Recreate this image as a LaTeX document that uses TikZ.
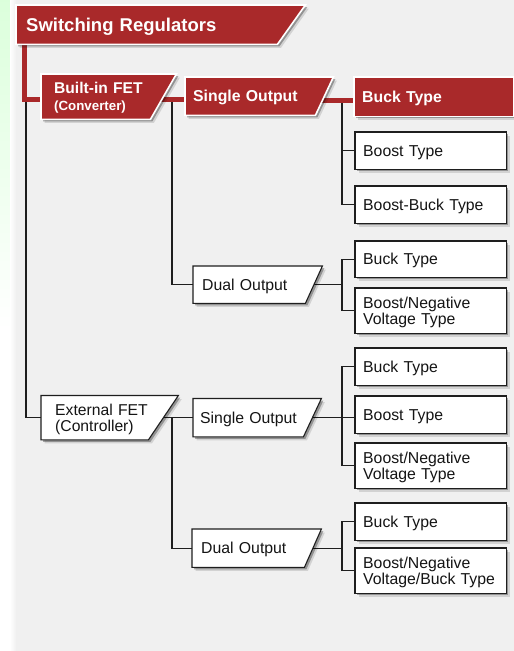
\documentclass[tikz,border=0pt]{standalone}
\usepackage{fontspec}
\setmainfont{Liberation Sans}
\pgfdeclarelayer{bg}
\pgfdeclarelayer{lines}
\pgfdeclarelayer{shapes}
\pgfsetlayers{bg,lines,shapes,main}
\definecolor{myred}{HTML}{A9292A}
\definecolor{panel}{HTML}{F0F0F0}
\definecolor{lnc}{HTML}{1E1E1E}
\newcommand\myslpath[3]{\path[#3] (#1.north west) -- (#1.north east) -- ([xshift=-#2pt]#1.south east) -- (#1.south west) -- cycle;}
\newcommand\myboxshape[3]{%
  \begin{scope}[transform canvas={shift={(3.5,3.5)}}]\myslpath{#1}{#2}{fill=black,opacity=.12}\end{scope}
  \begin{scope}[transform canvas={shift={(2,2)}}]\myslpath{#1}{#2}{fill=black,opacity=.3}\end{scope}
  \myslpath{#1}{#2}{#3}}
\begin{document}
\begin{tikzpicture}[x=1pt,y=-1pt,
  box/.style={anchor=north west, inner ysep=0pt, text depth=0pt, align=left,
    font=\fontsize{15.8}{16.5}\selectfont, text=black!92},
  wbox/.style={box, inner xsep=8pt, text width=135pt, minimum height=#1},
  twoline/.style={text depth=#1},
  redtxt/.style={text=white, font=\bfseries\fontsize{15.8}{17}\selectfont},
  whitefill/.style={fill=white, draw=lnc, line width=1.1pt},
  redfill/.style={fill=myred, draw=white, line width=1.6pt},
  redl/.style={draw=myred, line width=5pt},
  blk/.style={draw=lnc, line width=1.1pt}]
\useasboundingbox (0,0) rectangle (514,651);
% nodes
\node[box, inner xsep=10pt, text width=269pt, minimum height=39pt, text=white,
  font=\bfseries\fontsize{18.5}{20}\selectfont] (title) at (16,5) {Switching Regulators};
\node[box, twoline=17pt, inner xsep=13pt, text width=109pt, minimum height=45pt, text=white,
  font=\bfseries\fontsize{15.6}{17}\selectfont] (bi) at (41,74) {Built-in FET\\{\fontsize{13.3}{17}\selectfont (Converter)}};
\node[box, redtxt, inner xsep=8pt, text width=132pt, minimum height=38pt] (so1) at (185,77) {Single Output};
\node[box, redtxt, inner xsep=8pt, text width=143pt, minimum height=39pt] (bk) at (354,77) {Buck Type};
\node[wbox=37pt] (b1) at (355,132) {Boost Type};
\node[wbox=37pt] (b2) at (355,186) {Boost-Buck Type};
\node[box, inner xsep=9pt, text width=111pt, minimum height=37pt] (du1) at (193,266) {Dual Output};
\node[wbox=36pt] (b3) at (355,241) {Buck Type};
\node[wbox=45pt, twoline=16.5pt] (b4) at (355,288) {Boost/Negative\\Voltage Type};
\node[box, twoline=16pt, inner xsep=14pt, text width=109pt, minimum height=44pt,
  font=\fontsize{15.7}{16}\selectfont] (ext) at (41,395.5) {External FET\\(Controller)};
\node[box, inner xsep=7pt, text width=114pt, minimum height=38pt] (es) at (193,398.5) {Single Output};
\node[wbox=37pt] (b5) at (355,348) {Buck Type};
\node[wbox=37pt] (b6) at (355,396) {Boost Type};
\node[wbox=45pt, twoline=16.5pt] (b7) at (355,443) {Boost/Negative\\Voltage Type};
\node[box, inner xsep=9pt, text width=111pt, minimum height=38pt] (ed) at (192,529) {Dual Output};
\node[wbox=37pt] (b8) at (355,503) {Buck Type};
\node[wbox=45pt, twoline=16.5pt] (b9) at (355,548) {Boost/Negative\\Voltage/Buck Type};
\coordinate (j0) at (26,102);
\coordinate (j1) at (172,102);
\coordinate (t1) at (342,101);
% background
\begin{pgfonlayer}{bg}
  \fill[panel] (0,0) rectangle (514,651);
  \shade[top color=green!14!white, bottom color=white] (0,0) rectangle (10,330);
  \fill[white] (0,330) rectangle (10,651);
  \shade[left color=white, right color=panel] (10,0) rectangle (16,651);
\end{pgfonlayer}
% connectors
\begin{pgfonlayer}{lines}
  \draw[blk] (j0) |- (ext.west);
  \draw[blk] (j1) |- (du1.west);
  \draw[blk] (ext.center) -- (es.west);
  \draw[blk] (ext.center -| j1) |- (ed.west);
  \draw[blk] (t1) |- (b2.west);
  \draw[blk] (b1.west -| t1) -- (b1.west);
  \draw[blk] (du1.center) -- (du1.center -| t1);
  \draw[blk] (b3.west) -- (b3.west -| t1) |- (b4.west);
  \draw[blk] (es.center) -- (es.center -| b6.west);
  \draw[blk] (b5.west) -- (b5.west -| t1) |- (b7.west);
  \draw[blk] (ed.center) -- (ed.center -| t1);
  \draw[blk] (b8.west) -- (b8.west -| t1) |- (b9.west);
  \draw[redl] ([xshift=8.5pt]title.south west) |- ([yshift=-3pt]bi.west);
  \draw[redl] ([yshift=-3pt]bi.center) -- ([yshift=-3pt]bi.center -| so1.west);
  \draw[redl] ([yshift=-4pt]so1.center) -- ([yshift=-4pt]so1.center -| bk.west);
\end{pgfonlayer}
% shapes
\begin{pgfonlayer}{shapes}
  \myboxshape{title}{28}{redfill}
  \myboxshape{bi}{26}{redfill}
  \myboxshape{so1}{18}{redfill}
  \myboxshape{bk}{0}{redfill}
  \myboxshape{b1}{0}{whitefill}
  \myboxshape{b2}{0}{whitefill}
  \myboxshape{du1}{17}{whitefill}
  \myboxshape{b3}{0}{whitefill}
  \myboxshape{b4}{0}{whitefill}
  \myboxshape{ext}{30}{whitefill}
  \myboxshape{es}{18}{whitefill}
  \myboxshape{b5}{0}{whitefill}
  \myboxshape{b6}{0}{whitefill}
  \myboxshape{b7}{0}{whitefill}
  \myboxshape{ed}{17}{whitefill}
  \myboxshape{b8}{0}{whitefill}
  \myboxshape{b9}{0}{whitefill}
\end{pgfonlayer}
\end{tikzpicture}
\end{document}
